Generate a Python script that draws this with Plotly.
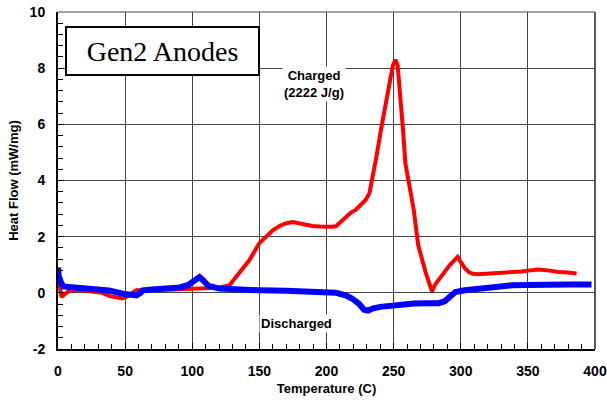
import plotly.graph_objects as go

# Charged anode (red)
charged_T = [0, 1, 2.7, 5, 8.9, 15, 25, 33, 38.6, 44, 47.8, 52, 55, 58.4, 65, 75, 85, 95, 103,
             110, 120, 127.7, 135, 142.5, 150, 155, 160, 165, 170, 175, 179.7, 185, 189.5, 195,
             199.5, 204, 207, 210, 214.3, 218, 221.7, 225, 229, 232, 234, 237, 241, 243, 245.2,
             247.5, 249.5, 251.4, 253, 255.1, 257, 258.8, 261.3, 263.8, 265, 268.3, 271, 274,
             276.5, 278.6, 281, 284, 288.5, 292, 295, 297.7, 300, 303, 306, 309, 313, 320, 330,
             338, 345, 352, 357.8, 365, 372.7, 380, 386.3]
charged_HF = [0.55, 0.3, -0.15, -0.05, 0.09, 0.1, 0.05, 0.0, -0.12, -0.17, -0.2, -0.12, 0.0, 0.09,
              0.1, 0.1, 0.12, 0.14, 0.15, 0.17, 0.18, 0.27, 0.69, 1.16, 1.77, 2.0, 2.23, 2.38, 2.48,
              2.52, 2.47, 2.42, 2.38, 2.36, 2.35, 2.35, 2.37, 2.5, 2.71, 2.85, 2.95, 3.1, 3.3, 3.55,
              4.02, 4.8, 5.92, 6.5, 7.0, 7.6, 8.1, 8.3, 8.1, 7.0, 5.8, 4.6, 4.0, 3.3, 2.95, 1.7,
              1.2, 0.7, 0.35, 0.05, 0.3, 0.5, 0.8, 1.0, 1.15, 1.28, 1.1, 0.88, 0.74, 0.68, 0.66,
              0.68, 0.7, 0.74, 0.76, 0.8, 0.83, 0.8, 0.74, 0.72, 0.69]

# Discharged anode (blue)
discharged_T = [0, 0.5, 2, 4, 10, 20, 28.7, 38, 48.5, 55, 58.4, 61, 63.3, 70, 80, 90.6, 97, 100,
                103, 105.4, 108, 112, 120.3, 135, 150, 170, 190, 199.5, 207, 214.3, 219, 224.2,
                228, 231, 234.8, 240, 249, 254, 265, 275, 283.6, 288, 292, 296, 303, 313.3, 325,
                338, 350, 362.8, 380, 397.4]
discharged_HF = [0.9, 0.6, 0.4, 0.23, 0.2, 0.17, 0.15, 0.08, -0.03, -0.07, -0.09, -0.02, 0.09,
                 0.12, 0.15, 0.19, 0.28, 0.38, 0.48, 0.56, 0.45, 0.25, 0.15, 0.11, 0.09, 0.07,
                 0.05, 0.03, 0.0, -0.09, -0.2, -0.39, -0.6, -0.63, -0.55, -0.5, -0.45, -0.39,
                 -0.38, -0.37, -0.37, -0.3, -0.15, 0.03, 0.09, 0.15, 0.2, 0.27, 0.28, 0.3, 0.3, 0.3]

x_ticks = [0, 50, 100, 150, 200, 250, 300, 350, 400]
y_ticks = [-2, 0, 2, 4, 6, 8, 10]

fig = go.Figure()
fig.add_trace(go.Scatter(x=charged_T, y=charged_HF, mode="lines",
                         line=dict(color="#ff0000", width=4), showlegend=False))
fig.add_trace(go.Scatter(x=discharged_T, y=discharged_HF, mode="lines",
                         line=dict(color="#0000ff", width=6), showlegend=False))

bold = dict(family="Liberation Sans, Arial", size=14, color="black")

fig.update_layout(
    width=607, height=407,
    margin=dict(l=58, r=12, t=12, b=58, autoexpand=False),
    paper_bgcolor="white", plot_bgcolor="white",
    font=dict(family="Liberation Sans, Arial", color="black"),
    xaxis=dict(range=[0, 400], tickvals=x_ticks, ticktext=[f"<b>{v}</b>" for v in x_ticks],
               showgrid=True, gridcolor="#444444", gridwidth=1, zeroline=False,
               showline=True, linecolor="black", linewidth=2, automargin=False,
               ticks="inside", ticklen=6, tickcolor="black",
               minor=dict(dtick=10, ticks="inside", ticklen=5, tickcolor="black", showgrid=False),
               tickfont=bold, ticklabelstandoff=8, ticklabeloverflow="allow",
               title=dict(text="<b>Temperature (C)</b>", font=dict(size=13), standoff=6)),
    yaxis=dict(range=[-2, 10], tickvals=y_ticks, ticktext=[f"<b>{v}</b>" for v in y_ticks],
               showgrid=True, gridcolor="#444444", gridwidth=1, zeroline=False,
               showline=True, linecolor="black", linewidth=2, automargin=False,
               ticks="inside", ticklen=6, tickcolor="black",
               minor=dict(dtick=0.4, ticks="inside", ticklen=5, tickcolor="black", showgrid=False),
               tickfont=bold, ticklabelstandoff=8, ticklabeloverflow="allow",
               title=dict(text="<b>Heat Flow (mW/mg)</b>", font=dict(size=13), standoff=8)),
    shapes=[
        dict(type="line", xref="paper", yref="paper", x0=1, x1=1, y0=0, y1=1,
             line=dict(color="#222222", width=1.5)),
        dict(type="line", xref="paper", yref="paper", x0=0, x1=1, y0=1, y1=1,
             line=dict(color="#444444", width=1)),
    ],
)

fig.add_annotation(x=0.194, y=0.883, xref="paper", yref="paper", text="Gen2 Anodes",
                   showarrow=False, font=dict(family="Liberation Serif, Times New Roman", size=28, color="black"),
                   bordercolor="black", borderwidth=2, bgcolor="white", width=189, height=44,
                   xanchor="center", yanchor="middle")
fig.add_annotation(x=190.8, y=7.45, text="<b>Charged<br>(2222 J/g)</b>", showarrow=False,
                   font=dict(size=13, color="black"), bgcolor="white")
fig.add_annotation(x=177.4, y=-1.1, text="<b>Discharged</b>", showarrow=False,
                   font=dict(size=13, color="black"), bgcolor="white")

fig.write_html("out.html")
